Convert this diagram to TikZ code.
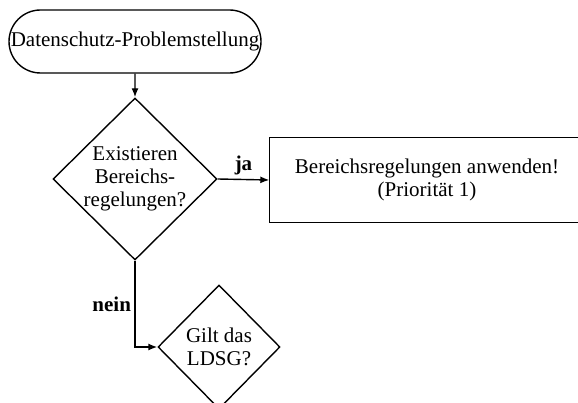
\documentclass[tikz,border=0pt]{standalone}
\usepackage{fontspec}
\setmainfont{Liberation Serif}
\usetikzlibrary{shapes.geometric,shapes.misc,arrows.meta}
\begin{document}
\begin{tikzpicture}[
  x=1pt, y=-1pt,
  line width=1.4pt, line join=miter,
  txt/.style={font=\fontsize{21}{23}\selectfont, align=center},
  startbox/.style={txt, draw, rounded rectangle, minimum width=252pt, minimum height=63pt, inner sep=0pt},
  question/.style={txt, draw, diamond, inner sep=-6pt},
  actionbox/.style={txt, rectangle, minimum width=314pt, minimum height=84pt},
  answer/.style={font=\fontsize{21}{23}\selectfont\bfseries},
  flow/.style={-{Latex[length=9pt,width=7pt]}}]
\useasboundingbox (0,0) rectangle (578,403);
\node [startbox] (problem) at (135,41.5) {Datenschutz-Problemstellung};
\node [question, minimum width=164pt, minimum height=162pt] (bereich) at (135,179)
  {Existieren\\Bereichs-\\regelungen?};
\node [actionbox] (anwenden) at (427,180) {Bereichsregelungen anwenden!\\(Priorität 1)};
% box runs past the right margin
\draw (anwenden.north west) rectangle ([xshift=30pt]anwenden.south east);
\node [question, minimum width=122pt, minimum height=124pt] (ldsg) at (219,347)
  {Gilt das\\LDSG?};
\draw [flow] (problem) -- (bereich);
\draw [flow] (bereich.east) -- node [answer, above] {ja} (anwenden.west);
\draw [flow] (bereich.south) |- node [answer, left, pos=0.25] {nein} (ldsg.west);
\end{tikzpicture}
\end{document}
